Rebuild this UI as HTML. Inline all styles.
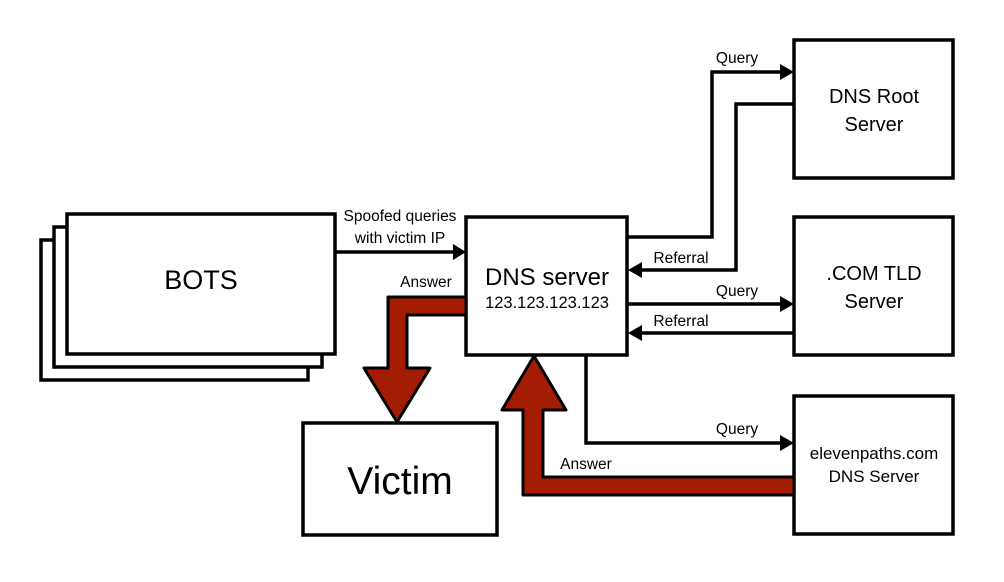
<!DOCTYPE html>
<html><head><style>body{margin:0;background:#fff}svg{display:block}text{font-family:"Liberation Sans",sans-serif;fill:#000}</style></head>
<body>
<svg width="1004" height="582" viewBox="0 0 1004 582" xmlns="http://www.w3.org/2000/svg">
<g fill="#fff" stroke="#000" stroke-width="3.5">
<rect x="41" y="240" width="267" height="140"/>
<rect x="54" y="227" width="268" height="140"/>
<rect x="67" y="214" width="268" height="140"/>
<rect x="466" y="217" width="161" height="138"/>
<rect x="794" y="40" width="159" height="138"/>
<rect x="794" y="217" width="159" height="138"/>
<rect x="794" y="396" width="159" height="138"/>
<rect x="303" y="423" width="194" height="112"/>
</g>
<g fill="none" stroke="#000" stroke-width="3.5">
<path d="M335 252 H455"/>
<path d="M627 237 H712 V72 H782"/>
<path d="M794 104 H736 V270 H640"/>
<path d="M627 304 H782"/>
<path d="M794 333 H640"/>
<path d="M586 355 V443 H782"/>
</g>
<g fill="#000">
<path d="M466 252 L453 244 L453 260Z"/>
<path d="M794 72 L780 64 L780 80Z"/>
<path d="M628 270 L642 262 L642 278Z"/>
<path d="M794 304 L780 296 L780 312Z"/>
<path d="M628 333 L642 325 L642 341Z"/>
<path d="M794 443 L780 435 L780 451Z"/>
</g>
<g fill="#a51c04" stroke="#000" stroke-width="3" stroke-linejoin="round">
<path d="M466 297 H388 V368 H364 L397 422 L430 368 H407 V315 H466Z"/>
<path d="M794 477 H543 V410 H566 L534 356 L502 410 H523 V495 H794Z"/>
</g>
<g font-size="15.5">
<text x="400" y="221" text-anchor="middle">Spoofed queries</text>
<text x="400" y="243" text-anchor="middle">with victim IP</text>
<text x="426" y="287" text-anchor="middle">Answer</text>
<text x="737" y="63" text-anchor="middle">Query</text>
<text x="681" y="263" text-anchor="middle">Referral</text>
<text x="737" y="296" text-anchor="middle">Query</text>
<text x="681" y="326" text-anchor="middle">Referral</text>
<text x="737" y="434" text-anchor="middle">Query</text>
<text x="586" y="469" text-anchor="middle">Answer</text>
</g>
<text x="201" y="289" font-size="27" text-anchor="middle">BOTS</text>
<text x="547" y="285" font-size="24" text-anchor="middle">DNS server</text>
<text x="547" y="308" font-size="16.5" text-anchor="middle">123.123.123.123</text>
<text x="874" y="103" font-size="20" text-anchor="middle">DNS Root</text>
<text x="874" y="131" font-size="20" text-anchor="middle">Server</text>
<text x="874" y="280" font-size="20" text-anchor="middle">.COM TLD</text>
<text x="874" y="308" font-size="20" text-anchor="middle">Server</text>
<text x="874" y="459" font-size="17" text-anchor="middle">elevenpaths.com</text>
<text x="874" y="482" font-size="17" text-anchor="middle">DNS Server</text>
<text x="400" y="494" font-size="39" text-anchor="middle">Victim</text>
</svg>
</body></html>
